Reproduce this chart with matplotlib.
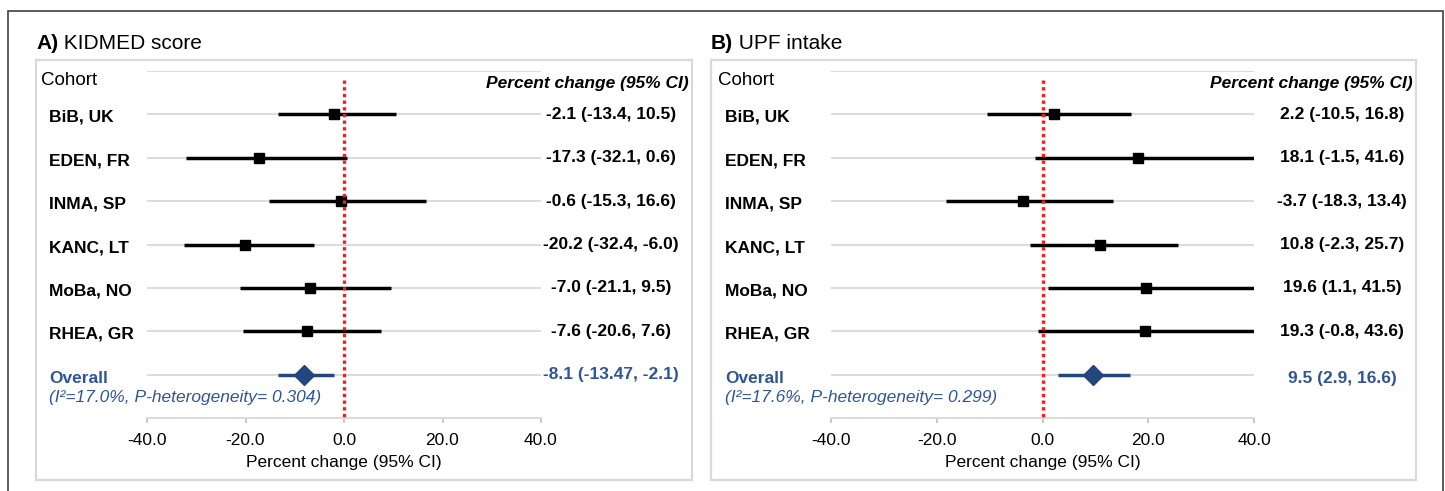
import matplotlib
matplotlib.use("Agg")
import matplotlib.pyplot as plt
import matplotlib.transforms as mtransforms
from matplotlib.patches import Rectangle

plt.rcParams['font.family'] = ['Liberation Sans', 'DejaVu Sans']

# data
cohorts = ["BiB, UK", "EDEN, FR", "INMA, SP", "KANC, LT", "MoBa, NO", "RHEA, GR"]

kid_est = [-2.1, -17.3, -0.6, -20.2, -7.0, -7.6]
kid_lo = [-13.4, -32.1, -15.3, -32.4, -21.1, -20.6]
kid_hi = [10.5, 0.6, 16.6, -6.0, 9.5, 7.6]
kid_overall = [-8.1, -13.47, -2.1]
kid_i2 = 17.0
kid_phet = 0.304

upf_est = [2.2, 18.1, -3.7, 10.8, 19.6, 19.3]
upf_lo = [-10.5, -1.5, -18.3, -2.3, 1.1, -0.8]
upf_hi = [16.8, 41.6, 13.4, 25.7, 41.5, 43.6]
upf_overall = [9.5, 2.9, 16.6]
upf_i2 = 17.6
upf_phet = 0.299

xticks = [-40, -20, 0, 20, 40]

BLUE_TXT = '#2F5597'
BLUE_MK = '#24467F'
GRID = '#D9D9D9'
W, H = 1445, 491


def fmt(v):
    if abs(v * 10 - round(v * 10)) > 1e-9:
        return f"{v:.2f}"
    return f"{v:.1f}"


def ci_text(e, l, h):
    return f"{fmt(e)} ({fmt(l)}, {fmt(h)})"


fig = plt.figure(figsize=(W / 100, H / 100), dpi=100)

# background axes in pixel coords for frames and free text
bg = fig.add_axes([0, 0, 1, 1])
bg.set_xlim(0, W)
bg.set_ylim(H, 0)
bg.axis('off')

# outer frame
bg.plot([8, 8, 1443, 1443], [H + 5, 11, 11, H + 5], color='#404040', lw=1.2,
        solid_joinstyle='miter')


def panel(x0, x1, ax_l, ax_r, val_cx, hdr_r, lab_x, coh_x, letter, title,
          est, lo, hi, overall, i2, phet, ov_y):
    # light grey panel box
    bg.add_patch(Rectangle((x0, 60), x1 - x0, 420, fill=False, ec=GRID, lw=1.6))
    t = bg.text(x0, 43, letter, fontsize=15, fontweight='bold', va='center', ha='left')
    bg.annotate(" " + title, xy=(1, 0.5), xycoords=t, va='center', ha='left',
                fontsize=15)

    ax = fig.add_axes([ax_l / W, 1 - 418 / H, (ax_r - ax_l) / W, (418 - 71) / H])
    ax.patch.set_alpha(0)
    ax.set_xlim(-40, 40)
    ax.set_ylim(7, -1)
    for s in ['top', 'left', 'right']:
        ax.spines[s].set_visible(False)
    ax.spines['bottom'].set_color(GRID)
    ax.spines['bottom'].set_linewidth(1.3)
    ax.set_yticks([])
    ax.set_xticks(xticks)
    ax.set_xticklabels([f"{v:.1f}" for v in xticks], fontsize=12.5)
    ax.tick_params(axis='x', length=3.5, width=1.2, color='#BFBFBF', pad=7.5)
    ax.set_xlabel("Percent change (95% CI)", fontsize=12.5, labelpad=4.5)

    rows = list(range(len(cohorts)))
    ax.hlines(list(range(-1, len(cohorts) + 1)), -40, 40, color=GRID, lw=1.3, zorder=1)
    ax.plot([0, 0], [-0.8, 7], color='#FF1A1A', lw=2.4, ls=(0, (1, 1)),
            zorder=4, clip_on=False)

    ax.hlines(rows, lo, hi, color='black', lw=2.5, zorder=2)
    ax.plot(est, rows, 's', color='black', ms=7.5, zorder=3)
    ov = len(cohorts)
    ax.hlines([ov], overall[1], overall[2], color=BLUE_MK, lw=2.5, zorder=2)
    ax.plot([overall[0]], [ov], 'D', color=BLUE_MK, ms=10.5, zorder=3)

    tr = mtransforms.blended_transform_factory(bg.transData, ax.transData)
    ax.text(coh_x, -0.77, "Cohort", transform=tr, fontsize=13.5, va='center', ha='left')
    ax.text(hdr_r, -0.72, "Percent change (95% CI)", transform=tr, fontsize=12.5,
            fontweight='bold', fontstyle='italic', va='center', ha='right')
    for r, name in zip(rows, cohorts):
        ax.text(lab_x, r + 0.07, name, transform=tr, fontsize=12.5,
                fontweight='bold', va='center', ha='left')
        ax.text(val_cx, r, ci_text(est[r], lo[r], hi[r]), transform=tr,
                fontsize=12.5, fontweight='bold', va='center', ha='center')
    ax.text(lab_x, ov + 0.08, "Overall", transform=tr, fontsize=12.5,
            fontweight='bold', color=BLUE_TXT, va='center', ha='left')
    ax.text(lab_x, ov + 0.52, f"(I\u00b2={i2:.1f}%, P-heterogeneity= {phet:.3f})",
            transform=tr, fontsize=12.5, fontstyle='italic', color=BLUE_TXT,
            va='center', ha='left')
    ax.text(val_cx, ov + ov_y, ci_text(*overall), transform=tr, fontsize=12.5,
            fontweight='bold', color=BLUE_TXT, va='center', ha='center')
    return ax


panel(36, 692, 147, 541, 611, 689, 49, 41, "A)", "KIDMED score",
      kid_est, kid_lo, kid_hi, kid_overall, kid_i2, kid_phet, 0.0)
panel(711, 1416, 831, 1254, 1342, 1413, 725, 718, "B)", "UPF intake",
      upf_est, upf_lo, upf_hi, upf_overall, upf_i2, upf_phet, 0.1)

fig.savefig("out.png", dpi=100)
